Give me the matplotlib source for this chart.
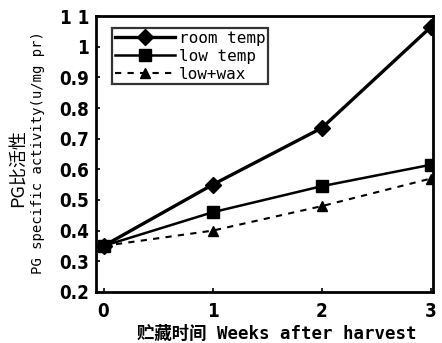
import matplotlib
matplotlib.use("Agg")
import matplotlib.pyplot as plt

weeks = [0, 1, 2, 3]
room_temp = [0.35, 0.55, 0.735, 1.065]
low_temp = [0.35, 0.46, 0.545, 0.615]
low_wax = [0.35, 0.40, 0.48, 0.57]
yticks = [0.2, 0.3, 0.4, 0.5, 0.6, 0.7, 0.8, 0.9, 1.0, 1.1]
ytick_labels = ["0.2", "0.3", "0.4", "0.5", "0.6", "0.7", "0.8", "0.9", "1", "1 1"]

plt.rcParams['font.family'] = ['Noto Sans CJK SC', 'DejaVu Sans']

fig = plt.figure(figsize=(4.42, 3.43), dpi=100)
ax = fig.add_axes([0.217, 0.149, 0.763, 0.804])

ax.plot(weeks, room_temp, color='black', lw=2.4, marker='D', ms=8, label='room temp')
ax.plot(weeks, low_temp, color='black', lw=1.8, marker='s', ms=9, label='low temp')
ax.plot(weeks, low_wax, color='black', lw=1.5, ls=(0, (3, 3)), marker='^', ms=7, label='low+wax')

ax.set_xlim(-0.07, 3.02)
ax.set_ylim(0.2, 1.1)
ax.set_xticks(weeks)
ax.set_yticks(yticks)
tfont = dict(family='DejaVu Sans', weight='bold', size=13.5, stretch='condensed')
ax.set_xticklabels([str(w) for w in weeks], fontdict=tfont)
ax.set_yticklabels(ytick_labels, fontdict=tfont)
ax.tick_params(direction='in', length=3, width=1.2, pad=5)
ax.tick_params(axis='x', pad=7)
for s in ax.spines.values():
    s.set_linewidth(2.0)

leg = ax.legend(loc='upper left', bbox_to_anchor=(0.025, 0.985), frameon=True, fancybox=False,
                edgecolor='black', prop=dict(family='DejaVu Sans Mono', size=11.5),
                handlelength=3.8, borderpad=0.15, labelspacing=0.2, handletextpad=0.2)
leg.get_frame().set_linewidth(1.6)

ax.set_xlabel('贮藏时间 Weeks after harvest', fontsize=12.5, fontweight='bold',
              family=['DejaVu Sans Mono', 'Noto Sans CJK SC'], labelpad=3)
ax.xaxis.label.set_x(0.535)
fig.text(0.043, 0.51, 'PG比活性', rotation=90, ha='center', va='center', fontsize=13,
         family=['Noto Sans CJK SC', 'DejaVu Sans'])
fig.text(0.086, 0.554, 'PG specific activity(u/mg pr)', rotation=90, ha='center', va='center',
         fontsize=10, family=['DejaVu Sans Mono'])

fig.savefig('out.png', dpi=100)
